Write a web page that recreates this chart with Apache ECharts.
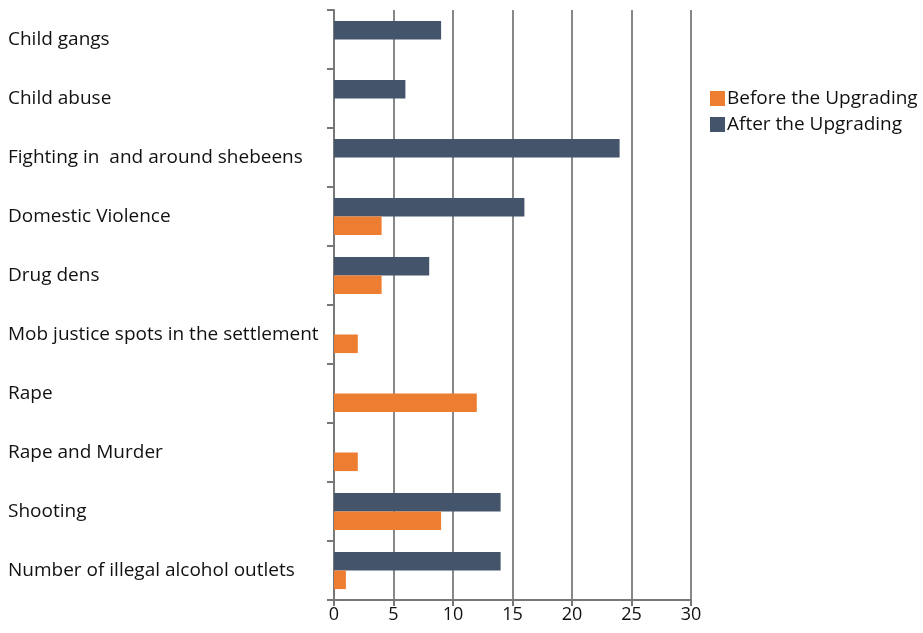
<!DOCTYPE html>
<html>
<head>
<meta charset="utf-8">
<script src="https://cdn.jsdelivr.net/npm/echarts@6/dist/echarts.min.js"></script>
<style>
	html, body { margin: 0; padding: 0; background: #fff; }
	#chart { width: 923px; height: 633px; }
</style>
</head>
<body>
<div id="chart"></div>
<script>
var categories = [
	'Child gangs',
	'Child abuse',
	'Fighting in  and around shebeens',
	'Domestic Violence',
	'Drug dens',
	'Mob justice spots in the settlement',
	'Rape',
	'Rape and Murder',
	'Shooting',
	'Number of illegal alcohol outlets'
];
var beforeValues = [0, 0, 0, 4, 4, 2, 12, 2, 9, 1];
var afterValues = [9, 6, 24, 16, 8, 0, 0, 0, 14, 14];
var xTicks = [0, 5, 10, 15, 20, 25, 30];

var fontName = 'Open Sans';
var chart = echarts.init(document.getElementById('chart'));

var option = {
	animation: false,
	textStyle: { fontFamily: fontName },
	grid: {
		left: 334,
		right: 232,
		top: 10,
		bottom: 33
	},
	legend: {
		orient: 'vertical',
		left: 705,
		top: 84,
		itemWidth: 15,
		itemHeight: 15,
		itemGap: 7,
		icon: 'rect',
		textStyle: { fontSize: 19, color: '#111', fontFamily: fontName, padding: [0, 0, 0, -3] },
		data: ['Before the Upgrading', 'After the Upgrading']
	},
	xAxis: {
		type: 'value',
		min: xTicks[0],
		max: xTicks[xTicks.length - 1],
		interval: 5,
		axisLine: { show: true, lineStyle: { color: '#777', width: 2 } },
		axisTick: { show: true, length: 6, lineStyle: { color: '#777', width: 2 } },
		axisLabel: { fontSize: 18, color: '#111', margin: 6 },
		splitLine: { show: true, lineStyle: { color: '#888', width: 2 } }
	},
	yAxis: {
		type: 'category',
		inverse: true,
		data: categories,
		axisLine: { show: true, lineStyle: { color: '#777', width: 2 } },
		axisTick: { show: true, length: 7, lineStyle: { color: '#777', width: 2 } },
		axisLabel: { fontSize: 19, color: '#111', align: 'left', margin: 326, padding: [3, 0, 0, 0] }
	},
	series: [
		{
			name: 'After the Upgrading',
			type: 'bar',
			data: afterValues,
			barGap: '0%',
			barCategoryGap: '37%',
			itemStyle: { color: '#44546A' }
		},
		{
			name: 'Before the Upgrading',
			type: 'bar',
			data: beforeValues,
			barGap: '0%',
			barCategoryGap: '37%',
			itemStyle: { color: '#ED7D31' }
		}
	]
};
chart.setOption(option);
</script>
</body>
</html>
